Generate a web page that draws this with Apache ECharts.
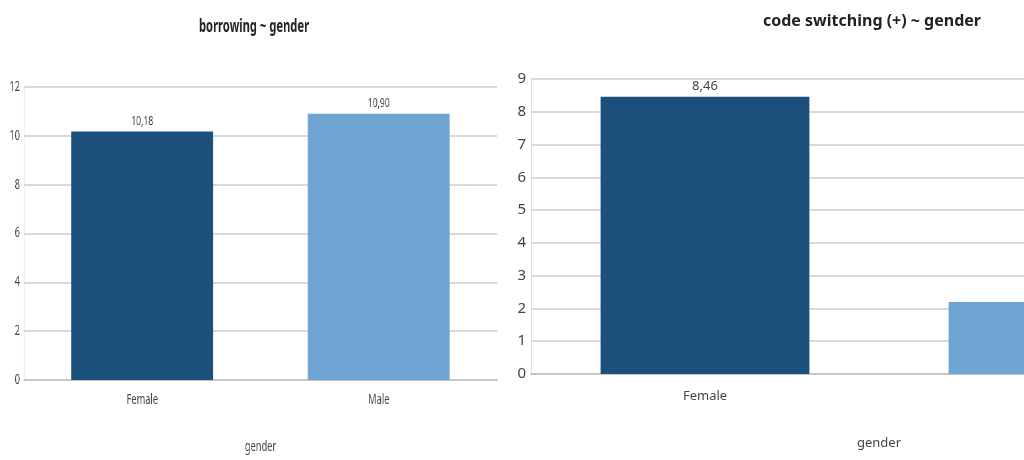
<!DOCTYPE html>
<html>
<head>
<meta charset="utf-8">
<script src="https://cdn.jsdelivr.net/npm/echarts@6/dist/echarts.min.js"></script>
<style>
html,body{margin:0;padding:0;background:#fff;width:1024px;height:460px;overflow:hidden;position:relative;}
#r{position:absolute;left:0;top:0;width:1240px;height:460px;}
#l{position:absolute;left:0;top:0;width:776px;height:460px;transform-origin:0 0;transform:scaleX(0.66);}
</style>
</head>
<body>
<div id="r"></div>
<div id="l"></div>
<script>
const categories = ['Female', 'Male'];
const borrowingValues = [10.18, 10.90];
const codeSwitchingValues = [8.46, 2.2];
const leftTicks = { min: 0, max: 12, interval: 2 };
const rightTicks = { min: 0, max: 9, interval: 1 };
const titles = ['borrowing ~ gender', 'code switching (+) ~ gender'];
const axisName = 'gender';
const barColors = ['#1d4f7c', '#6fa5d3'];

const font = '"Noto Sans", "Open Sans", sans-serif';
const S = 0.66; // horizontal squeeze of the left panel

function fmt(p) { return p.value.toFixed(2).replace('.', ','); }
function coloured(vals) {
  return vals.map((v, i) => ({ value: v, itemStyle: { color: barColors[i] } }));
}

function panel(cfg) {
  return {
    animation: false,
    backgroundColor: 'transparent',
    graphic: [
      { type: 'text', x: cfg.titleX, y: cfg.titleY,
        style: { text: cfg.title, font: 'bold ' + cfg.titleSize + 'px ' + font, fill: '#222', align: 'center', verticalAlign: 'top' } }
    ],
    grid: { left: cfg.left, top: cfg.top, width: cfg.width, height: cfg.height, containLabel: false },
    xAxis: {
      type: 'category', data: categories,
      axisLine: { lineStyle: { color: '#c6c6c6', width: 2 } }, axisTick: { show: false },
      axisLabel: { color: '#444', fontFamily: font, fontSize: cfg.catSize, margin: cfg.catMargin },
      name: axisName, nameLocation: 'middle', nameGap: cfg.nameGap,
      nameTextStyle: { color: '#444', fontFamily: font, fontSize: cfg.catSize }
    },
    yAxis: {
      type: 'value', min: cfg.ticks.min, max: cfg.ticks.max, interval: cfg.ticks.interval,
      axisLine: { show: true, lineStyle: { color: '#dedede', width: 1 } }, axisTick: { show: false },
      splitLine: { lineStyle: { color: '#d9d9d9', width: 2 } },
      axisLabel: { color: '#444', fontFamily: font, fontSize: cfg.tickSize, margin: cfg.tickMargin }
    },
    series: [{
      type: 'bar', data: coloured(cfg.values), barWidth: '60%',
      label: { show: true, position: 'top', distance: 4, formatter: fmt, color: '#444', fontFamily: font, fontSize: 13 }
    }]
  };
}

echarts.init(document.getElementById('l'), null, { renderer: 'canvas' }).setOption(panel({
  title: titles[0], titleX: 254 / S, titleY: 19, titleSize: 17,
  left: 24 / S, top: 87, width: 473 / S, height: 293,
  ticks: leftTicks, values: borrowingValues,
  catSize: 14, catMargin: 13, nameGap: 60, tickSize: 14, tickMargin: 6
}));

echarts.init(document.getElementById('r'), null, { renderer: 'canvas' }).setOption(panel({
  title: titles[1], titleX: 872, titleY: 13, titleSize: 16,
  left: 531, top: 79, width: 696, height: 295,
  ticks: rightTicks, values: codeSwitchingValues,
  catSize: 13, catMargin: 16, nameGap: 63, tickSize: 15, tickMargin: 5
}));
</script>
</body>
</html>
